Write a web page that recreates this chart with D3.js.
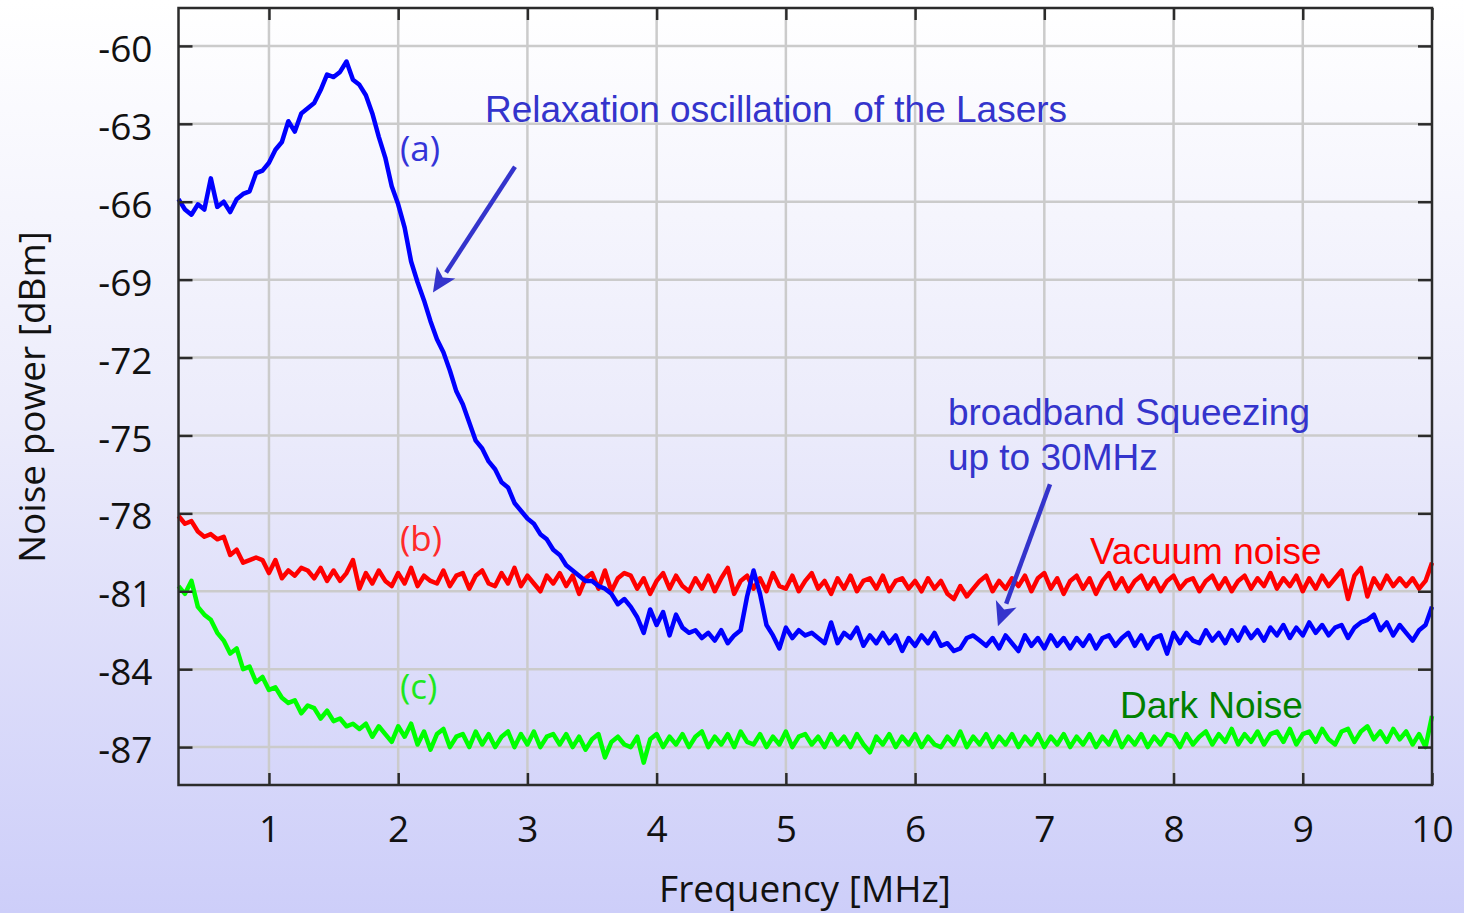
<!DOCTYPE html>
<html>
<head>
<meta charset="utf-8">
<script src="https://cdn.jsdelivr.net/npm/d3@7"></script>
<style>
  html, body { margin: 0; padding: 0; }
  body { width: 1464px; height: 913px; overflow: hidden; }
  svg { display: block; }
</style>
</head>
<body>
<svg id="chart" width="1464" height="913"></svg>
<script>
// ---------------- DATA ----------------
// spectrum analyzer sweep grid (MHz)
const freqStart = 0.3;
const freqStep = 0.05;

const xTicks = [1, 2, 3, 4, 5, 6, 7, 8, 9, 10];
const yTicks = [-60, -63, -66, -69, -72, -75, -78, -81, -84, -87];

// (a) laser noise showing relaxation oscillation, dBm
const seriesA = [
  -65.9,-66.3,-66.5,-66.1,-66.3,-65.1,-66.2,-66.0,-66.4,-65.9,
  -65.7,-65.6,-64.9,-64.8,-64.5,-64.0,-63.7,-62.9,-63.3,-62.6,
  -62.4,-62.2,-61.7,-61.1,-61.2,-61.0,-60.6,-61.3,-61.5,-61.9,
  -62.6,-63.5,-64.3,-65.4,-66.1,-67.0,-68.3,-69.1,-69.8,-70.6,
  -71.3,-71.8,-72.5,-73.3,-73.8,-74.5,-75.2,-75.5,-76.0,-76.3,
  -76.8,-77.0,-77.6,-77.9,-78.2,-78.4,-78.8,-79.0,-79.4,-79.6,
  -80.0,-80.2,-80.4,-80.6,-80.6,-80.8,-80.9,-81.1,-81.5,-81.3,
  -81.6,-82.0,-82.6,-81.7,-82.3,-81.8,-82.7,-81.9,-82.4,-82.6,
  -82.5,-82.8,-82.6,-82.9,-82.5,-83.0,-82.7,-82.5,-81.2,-80.2,
  -81.1,-82.3,-82.7,-83.2,-82.4,-82.8,-82.5,-82.7,-82.6,-82.8,
  -83.0,-82.2,-83.0,-82.6,-82.8,-82.4,-83.1,-82.7,-83.0,-82.6,
  -83.0,-82.7,-83.3,-82.8,-83.1,-82.7,-83.0,-82.6,-83.1,-83.0,
  -83.3,-83.2,-82.8,-82.7,-82.9,-83.1,-82.8,-83.2,-82.7,-83.0,
  -83.3,-82.7,-83.1,-82.8,-83.2,-82.7,-83.1,-82.8,-83.2,-82.8,
  -83.1,-82.7,-83.2,-82.8,-82.7,-83.1,-82.8,-82.6,-83.1,-82.7,
  -83.2,-82.8,-82.7,-83.4,-82.6,-83.0,-82.6,-82.9,-83.0,-82.5,
  -82.9,-82.6,-83.0,-82.5,-82.9,-82.4,-82.8,-82.5,-82.9,-82.4,
  -82.7,-82.3,-82.8,-82.4,-82.7,-82.2,-82.6,-82.3,-82.7,-82.4,
  -82.3,-82.8,-82.4,-82.2,-82.1,-81.9,-82.5,-82.2,-82.7,-82.3,
  -82.6,-82.9,-82.5,-82.3,-81.6
];

// (b) vacuum noise, dBm
const seriesB = [
  -78.1,-78.4,-78.3,-78.7,-78.9,-78.8,-79.0,-78.9,-79.6,-79.4,
  -79.9,-79.8,-79.7,-79.8,-80.3,-79.8,-80.5,-80.2,-80.4,-80.1,
  -80.2,-80.5,-80.1,-80.6,-80.2,-80.6,-80.3,-79.8,-80.9,-80.3,
  -80.7,-80.2,-80.6,-80.8,-80.3,-80.7,-80.1,-80.8,-80.4,-80.6,
  -80.7,-80.2,-80.8,-80.4,-80.3,-80.9,-80.4,-80.2,-80.7,-80.8,
  -80.3,-80.7,-80.1,-80.8,-80.4,-80.7,-81.0,-80.4,-80.7,-80.3,
  -80.8,-80.4,-81.1,-80.5,-80.3,-80.9,-80.2,-81.0,-80.5,-80.3,
  -80.4,-80.9,-80.5,-81.1,-80.6,-80.3,-80.9,-80.4,-80.8,-81.0,
  -80.5,-80.9,-80.4,-81.0,-80.5,-80.1,-81.1,-80.6,-80.4,-80.9,
  -80.5,-81.0,-80.3,-80.8,-80.9,-80.4,-81.0,-80.6,-80.3,-80.9,
  -80.6,-81.1,-80.5,-80.9,-80.4,-81.0,-80.6,-80.5,-80.9,-80.4,
  -81.0,-80.6,-80.5,-80.9,-80.6,-81.0,-80.5,-80.9,-80.6,-81.1,
  -81.3,-80.8,-81.2,-80.9,-80.6,-80.4,-81.0,-80.6,-80.9,-80.5,
  -80.8,-80.4,-81.0,-80.5,-80.3,-80.9,-80.5,-81.1,-80.6,-80.4,
  -80.9,-80.5,-81.1,-80.6,-80.3,-80.9,-80.5,-81.0,-80.6,-80.4,
  -80.9,-80.5,-81.0,-80.6,-80.4,-80.9,-80.6,-80.5,-81.0,-80.6,
  -80.4,-80.9,-80.5,-81.0,-80.6,-80.4,-80.9,-80.5,-80.8,-80.3,
  -80.9,-80.5,-80.8,-80.4,-81.0,-80.5,-80.9,-80.4,-80.8,-80.5,
  -80.2,-81.3,-80.4,-80.1,-81.2,-80.5,-80.9,-80.4,-80.8,-80.5,
  -80.8,-80.5,-80.9,-80.6,-79.9
];

// (c) detector dark noise, dBm
const seriesC = [
  -80.8,-81.1,-80.6,-81.6,-81.9,-82.1,-82.6,-82.9,-83.4,-83.2,
  -84.0,-83.9,-84.5,-84.3,-84.8,-84.7,-85.1,-85.3,-85.2,-85.7,
  -85.4,-85.5,-85.9,-85.6,-86.0,-85.9,-86.2,-86.1,-86.3,-86.1,
  -86.6,-86.2,-86.5,-86.8,-86.2,-86.6,-86.1,-86.9,-86.4,-87.1,
  -86.5,-86.3,-87.0,-86.6,-86.5,-87.0,-86.4,-86.9,-86.5,-87.0,
  -86.6,-86.4,-87.0,-86.5,-86.9,-86.4,-87.0,-86.6,-86.5,-86.9,
  -86.5,-87.0,-86.6,-87.1,-86.7,-86.5,-87.4,-86.8,-86.6,-86.9,
  -87.0,-86.6,-87.6,-86.7,-86.5,-87.0,-86.6,-86.9,-86.5,-87.0,
  -86.6,-86.4,-87.0,-86.6,-86.9,-86.5,-87.0,-86.4,-86.8,-86.9,
  -86.5,-87.0,-86.6,-86.9,-86.4,-87.0,-86.6,-86.5,-86.9,-86.6,
  -87.0,-86.5,-86.9,-86.6,-87.0,-86.5,-86.9,-87.2,-86.6,-86.9,
  -86.5,-87.0,-86.6,-86.9,-86.5,-87.0,-86.6,-86.9,-87.0,-86.6,
  -86.9,-86.4,-87.0,-86.6,-86.9,-86.5,-87.0,-86.6,-86.9,-86.5,
  -87.0,-86.6,-86.9,-86.5,-87.0,-86.6,-86.9,-86.5,-87.0,-86.6,
  -86.9,-86.5,-87.0,-86.6,-86.9,-86.4,-87.0,-86.6,-86.9,-86.5,
  -87.0,-86.6,-86.9,-86.5,-86.6,-87.0,-86.5,-86.9,-86.6,-86.4,
  -86.9,-86.5,-86.8,-86.3,-86.9,-86.5,-86.8,-86.4,-86.9,-86.5,
  -86.4,-86.8,-86.3,-86.9,-86.5,-86.4,-86.8,-86.3,-86.7,-86.9,
  -86.4,-86.3,-86.8,-86.4,-86.2,-86.7,-86.4,-86.8,-86.3,-86.7,
  -86.4,-86.9,-86.5,-87.0,-85.8
];

const seriesInfo = [
  { values: seriesA, color: "#0000ff", label: "(a)", labelColor: "#3434d8", lf: 2.014, lv: -64.45 },
  { values: seriesB, color: "#ff0000", label: "(b)", labelColor: "#ff2a2a", lf: 2.014, lv: -79.45 },
  { values: seriesC, color: "#00ff00", label: "(c)", labelColor: "#1ee81e", lf: 2.014, lv: -85.15 }
];

const annotations = [
  { lines: ["Relaxation oscillation  of the Lasers"], f: 2.672, v: -62.93, color: "#3434cc" },
  { lines: ["broadband Squeezing", "up to 30MHz"], f: 6.254, v: -74.59, color: "#3434cc" },
  { lines: ["Vacuum noise"], f: 7.353, v: -79.95, color: "#ff0000" },
  { lines: ["Dark Noise"], f: 7.585, v: -85.88, color: "#008000" }
];
const arrows = [
  { from: [2.904, -64.65], to: [2.269, -69.5] },
  { from: [7.044, -76.88], to: [6.641, -82.35] }
];

// ---------------- CHART ----------------
const W = 1464, H = 913;
const svg = d3.select("#chart");

const defs = svg.append("defs");
const grad = defs.append("linearGradient").attr("id", "bg")
  .attr("x1", 0).attr("y1", 0).attr("x2", 0).attr("y2", 1);
grad.append("stop").attr("offset", "0%").attr("stop-color", "#ffffff");
grad.append("stop").attr("offset", "45%").attr("stop-color", "#ececfb");
grad.append("stop").attr("offset", "100%").attr("stop-color", "#cdcef9");
svg.append("rect").attr("width", W).attr("height", H).attr("fill", "url(#bg)");

const x = d3.scaleLinear().domain([0.3, 10]).range([178.5, 1432]);
const y = d3.scaleLinear().domain([-88.46, -58.54]).range([785, 8]);

const TICKFONT = "'Open Sans', 'Noto Sans', sans-serif";
const ANNFONT = "'Liberation Sans', Arial, sans-serif";

// grid
const grid = svg.append("g");
grid.selectAll("line.v").data(xTicks.filter(d => d < 10)).join("line")
  .attr("x1", d => x(d)).attr("x2", d => x(d))
  .attr("y1", y.range()[1]).attr("y2", y.range()[0])
  .attr("stroke", "#cbcbcb").attr("stroke-width", 2.5);
grid.selectAll("line.h").data(yTicks).join("line")
  .attr("y1", d => y(d)).attr("y2", d => y(d))
  .attr("x1", x.range()[0]).attr("x2", x.range()[1])
  .attr("stroke", "#cbcbcb").attr("stroke-width", 2.5);

// series
const line = d3.line()
  .x((d, i) => x(freqStart + i * freqStep))
  .y(d => y(d));
const plot = svg.append("g");
seriesInfo.slice().reverse().forEach(s => {
  plot.append("path").datum(s.values)
    .attr("d", line)
    .attr("fill", "none")
    .attr("stroke", s.color)
    .attr("stroke-width", 4.5)
    .attr("stroke-linejoin", "round");
});

// frame & axes
const axisColor = "#2b2b2b";
const fmt = d => String(d);
function styleAxis(g) {
  g.select(".domain").remove();
  g.selectAll(".tick line").attr("stroke", axisColor).attr("stroke-width", 2.5);
  g.selectAll(".tick text").attr("fill", "#111").attr("font-family", TICKFONT).attr("font-size", 37);
}
svg.append("g").attr("transform", `translate(${x.range()[0]},0)`)
  .call(d3.axisLeft(y).tickValues(yTicks).tickSize(-14).tickPadding(26).tickFormat(fmt))
  .call(styleAxis)
  .call(g => g.selectAll(".tick text").attr("dy", "0.42em"));
svg.append("g").attr("transform", `translate(${x.range()[1]},0)`)
  .call(d3.axisRight(y).tickValues(yTicks).tickSize(-14).tickFormat(""))
  .call(styleAxis);
svg.append("g").attr("transform", `translate(0,${y.range()[0]})`)
  .call(d3.axisBottom(x).tickValues(xTicks).tickSize(-12).tickPadding(31).tickFormat(fmt))
  .call(styleAxis);
svg.append("g").attr("transform", `translate(0,${y.range()[1]})`)
  .call(d3.axisTop(x).tickValues(xTicks).tickSize(-12).tickFormat(""))
  .call(styleAxis);
svg.append("rect")
  .attr("x", x.range()[0]).attr("y", y.range()[1])
  .attr("width", x.range()[1] - x.range()[0]).attr("height", y.range()[0] - y.range()[1])
  .attr("fill", "none").attr("stroke", axisColor).attr("stroke-width", 2.5);

// axis titles
svg.append("text").attr("x", 805).attr("y", 902)
  .attr("text-anchor", "middle").attr("font-family", TICKFONT).attr("font-size", 37)
  .attr("fill", "#111").text("Frequency [MHz]");
svg.append("text").attr("transform", "translate(45,397) rotate(-90)")
  .attr("text-anchor", "middle").attr("font-family", TICKFONT).attr("font-size", 37)
  .attr("fill", "#111").text("Noise power [dBm]");

// series labels
svg.append("g").selectAll("text").data(seriesInfo).join("text")
  .attr("x", d => x(d.lf)).attr("y", d => y(d.lv))
  .attr("font-family", TICKFONT).attr("font-size", 35)
  .attr("fill", d => d.labelColor).text(d => d.label);

// annotations
annotations.forEach(a => {
  const t = svg.append("text").attr("x", x(a.f)).attr("y", y(a.v))
    .attr("font-family", ANNFONT).attr("font-size", 37).attr("fill", a.color)
    .style("white-space", "pre");
  a.lines.forEach((ln, i) => {
    t.append("tspan").attr("x", x(a.f)).attr("dy", i === 0 ? 0 : 45).text(ln);
  });
});

// arrows
const arrowColor = "#3434cc";
arrows.forEach(a => {
  const x1 = x(a.from[0]), y1 = y(a.from[1]), x2 = x(a.to[0]), y2 = y(a.to[1]);
  const ang = Math.atan2(y2 - y1, x2 - x1);
  const headLen = 24, headW = 11;
  const bx = x2 - headLen * Math.cos(ang), by = y2 - headLen * Math.sin(ang);
  svg.append("line").attr("x1", x1).attr("y1", y1).attr("x2", bx).attr("y2", by)
    .attr("stroke", arrowColor).attr("stroke-width", 4.5);
  const px = -Math.sin(ang), py = Math.cos(ang);
  svg.append("path")
    .attr("d", `M${x2},${y2}L${bx + px * headW},${by + py * headW}L${bx + 6 * Math.cos(ang)},${by + 6 * Math.sin(ang)}L${bx - px * headW},${by - py * headW}Z`)
    .attr("fill", arrowColor);
});
</script>
</body>
</html>
